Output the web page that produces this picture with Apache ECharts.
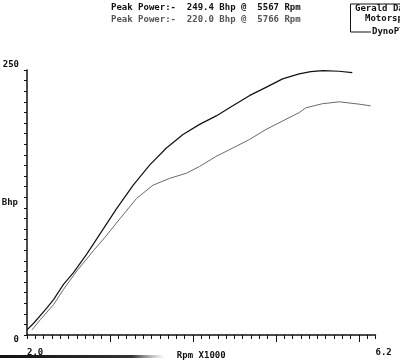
<!DOCTYPE html>
<html>
<head>
<meta charset="utf-8">
<script src="https://cdn.jsdelivr.net/npm/echarts@6/dist/echarts.min.js"></script>
<style>
html,body{margin:0;padding:0;background:#fff;}
#c{width:400px;height:360px;}
</style>
</head>
<body>
<div id="c"></div>
<script>
// ---- data (rpm x1000, bhp) ----
var rpmTop = [2.00, 2.08, 2.24, 2.32, 2.44, 2.56, 2.72, 2.88, 3.08, 3.28, 3.48, 3.68, 3.88, 4.08, 4.28, 4.48, 4.68, 4.88, 5.08, 5.28, 5.42, 5.567, 5.76, 5.92];
var bhpTop = [4.8, 11.1, 25.5, 33.4, 47.7, 58.8, 76.3, 95.4, 119.2, 141.4, 160.5, 176.4, 189.2, 198.7, 206.7, 216.2, 225.8, 233.6, 241.6, 246.4, 248.4, 249.4, 248.8, 247.6];
var rpmLow = [2.06, 2.16, 2.32, 2.44, 2.60, 2.80, 2.94, 3.12, 3.32, 3.52, 3.72, 3.92, 4.08, 4.28, 4.48, 4.68, 4.88, 5.08, 5.28, 5.36, 5.56, 5.766, 6.00, 6.14];
var bhpLow = [4.8, 14.4, 28.6, 43.0, 60.4, 79.5, 92.2, 109.7, 128.8, 141.4, 147.8, 152.6, 159.0, 168.5, 176.4, 184.4, 193.9, 201.9, 209.8, 214.3, 218.2, 220.0, 217.8, 216.2];
var xLabels = [2.0, 6.2];
var xMajor = [3, 4, 5, 6];
var yLabels = [0, 250];
var header1 = 'Peak Power:-  249.4 Bhp @  5567 Rpm';
var header2 = 'Peak Power:-  220.0 Bhp @  5766 Rpm';
var boxLines = ['Gerald Da', 'Motorsp', 'DynoPl'];

function pairs(xs, ys){ return xs.map(function(x,i){ return [x, ys[i]]; }); }

var FONT = 'DejaVu Sans Mono';
var chart = echarts.init(document.getElementById('c'), null, {renderer:'canvas'});
var gridRect = {left:27, right:24.5, top:70, bottom:25, containLabel:false, outerBoundsMode:'none'};

chart.setOption({
  backgroundColor:'#ffffff',
  animation:false,
  grid:[Object.assign({}, gridRect), Object.assign({}, gridRect)],
  xAxis:[{
    type:'value', gridIndex:0, min:2.0, max:6.2, interval:0.1,
    name:'Rpm X1000', nameLocation:'middle', nameGap:16, nameMoveOverlap:false,
    nameTextStyle:{fontFamily:FONT, fontWeight:'bold', fontSize:9, color:'#111'},
    axisLine:{show:true, lineStyle:{color:'#111', width:1.5}},
    axisTick:{show:true, inside:false, length:4, lineStyle:{color:'#111', width:1}},
    axisLabel:{show:true, customValues:xLabels, margin:13, align:'left',
      fontFamily:FONT, fontWeight:'bold', fontSize:9, color:'#111',
      formatter:function(v){ return Number(v).toFixed(1); }},
    splitLine:{show:false}
  },{
    type:'value', gridIndex:1, min:2.0, max:6.2,
    axisLine:{show:false},
    axisTick:{show:true, customValues:xMajor, length:7, lineStyle:{color:'#111', width:1}},
    axisLabel:{show:false},
    splitLine:{show:false}
  }],
  yAxis:[{
    type:'value', gridIndex:0, min:0, max:250, interval:10,
    name:'Bhp', nameLocation:'middle', nameRotate:0, nameGap:9, nameMoveOverlap:false,
    nameTextStyle:{fontFamily:FONT, fontWeight:'bold', fontSize:9, color:'#111', padding:[0,0,11,0]},
    axisLine:{show:true, lineStyle:{color:'#111', width:1.5}},
    axisTick:{show:true, inside:false, length:3, lineStyle:{color:'#111', width:1}},
    axisLabel:{show:true, customValues:yLabels, margin:8,
      fontFamily:FONT, fontWeight:'bold', fontSize:9, color:'#111',
      formatter:function(v){ return v === 250 ? '{t|250}' : '{b|0}'; },
      rich:{
        t:{fontFamily:FONT, fontWeight:'bold', fontSize:9, color:'#111', padding:[0,0,10,0]},
        b:{fontFamily:FONT, fontWeight:'bold', fontSize:9, color:'#111', padding:[10,0,0,0]}
      }},
    splitLine:{show:false}
  },{
    type:'value', gridIndex:1, min:0, max:250, show:false
  }],
  series:[{
    type:'line', xAxisIndex:0, yAxisIndex:0, data:pairs(rpmTop, bhpTop),
    showSymbol:false, smooth:false,
    lineStyle:{color:'#111', width:1.2}
  },{
    type:'line', xAxisIndex:0, yAxisIndex:0, data:pairs(rpmLow, bhpLow),
    showSymbol:false, smooth:false,
    lineStyle:{color:'#6a6a6a', width:1}
  }],
  graphic:[
    {type:'text', left:111, top:3, style:{text:header1, fontFamily:FONT, fontWeight:'bold', fontSize:9, fill:'#111'}},
    {type:'text', left:111, top:15, style:{text:header2, fontFamily:FONT, fontWeight:'bold', fontSize:9, fill:'#555'}},
    {type:'polyline', shape:{points:[[401,4],[350.5,4],[350.5,32],[371,32]]}, style:{stroke:'#111', lineWidth:1, fill:null}},
    {type:'text', left:355, top:4, style:{text:boxLines[0], fontFamily:FONT, fontWeight:'bold', fontSize:9, fill:'#111'}},
    {type:'text', left:365, top:14, style:{text:boxLines[1], fontFamily:FONT, fontWeight:'bold', fontSize:9, fill:'#111'}},
    {type:'text', left:372, top:27, style:{text:boxLines[2], fontFamily:FONT, fontWeight:'bold', fontSize:9, fill:'#111'}},
    {type:'rect', shape:{x:0, y:355, width:165, height:3}, style:{fill:new echarts.graphic.LinearGradient(0,0,1,0,[{offset:0,color:'#111'},{offset:0.8,color:'#333'},{offset:1,color:'rgba(120,120,120,0)'}])}, silent:true}
  ]
});
</script>
</body>
</html>
